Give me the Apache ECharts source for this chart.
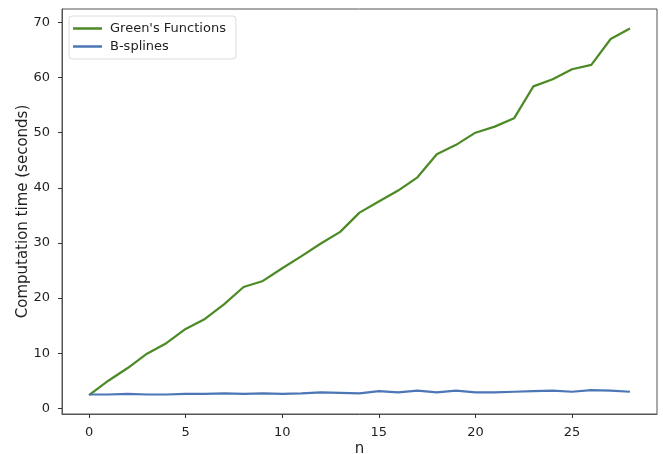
<!DOCTYPE html>
<html>
<head>
<meta charset="utf-8">
<script src="https://cdn.jsdelivr.net/npm/echarts@6/dist/echarts.min.js"></script>
<style>
html,body{margin:0;padding:0;background:#fff;}
#c{width:663px;height:454px;}
</style>
</head>
<body>
<div id="c"></div>
<script>
const nValues = [0,1,2,3,4,5,6,7,8,9,10,11,12,13,14,15,16,17,18,19,20,21,22,23,24,25,26,27,28];
const greens = [2.4,5.0,7.3,9.9,11.8,14.4,16.2,18.9,22.0,23.1,25.4,27.6,29.9,32.0,35.5,37.5,39.5,41.9,46.1,47.8,50.0,51.1,52.6,58.4,59.7,61.5,62.3,67.0,68.9];
const bsplines = [2.5,2.5,2.6,2.5,2.5,2.6,2.6,2.7,2.6,2.7,2.6,2.7,2.9,2.8,2.7,3.1,2.9,3.2,2.9,3.2,2.9,2.9,3.0,3.1,3.2,3.0,3.3,3.2,3.0];
const xTicks = [0,5,10,15,20,25];
const yTicks = [0,10,20,30,40,50,60,70];
const seriesNames = ["Green's Functions", "B-splines"];

const font = 'DejaVu Sans';
const txt = '#1f1f1f';
const chart = echarts.init(document.getElementById('c'), null, {renderer:'canvas'});
const pairs = (ys) => nValues.map((x,i)=>[x, ys[i]]);
chart.setOption({
  animation:false,
  backgroundColor:'#fff',
  grid:{left:62, right:6, top:9, bottom:40, containLabel:false, outerBoundsMode:'none',
        show:true, borderColor:'#555', borderWidth:1, backgroundColor:'transparent'},
  legend:{
    orient:'vertical', left:69, top:16,
    padding:[6,10,6,4],
    backgroundColor:'#fff', borderColor:'#dcdcdc', borderWidth:1, borderRadius:3,
    itemWidth:29, itemHeight:2.5, itemGap:5, icon:'rect',
    textStyle:{fontFamily:font, fontSize:13, color:txt, padding:[0,0,0,3]},
    data:seriesNames
  },
  xAxis:{
    type:'value', min:-1.4, max:29.4,
    name:'n', nameLocation:'middle', nameGap:28, nameMoveOverlap:false,
    nameTextStyle:{fontFamily:font, fontSize:15, color:txt},
    axisLine:{show:true, onZero:false, lineStyle:{color:'#555', width:1}},
    splitLine:{show:false},
    axisTick:{show:true, length:4, lineStyle:{color:'#333', width:1}, customValues:xTicks},
    axisLabel:{fontFamily:font, fontSize:13, color:txt, margin:12, customValues:xTicks}
  },
  yAxis:{
    type:'value', min:-1.04, max:72.44,
    name:'Computation time (seconds)', nameLocation:'middle', nameGap:31, nameMoveOverlap:false,
    nameTextStyle:{fontFamily:font, fontSize:15, color:txt},
    axisLine:{show:true, onZero:false, lineStyle:{color:'#555', width:1}},
    splitLine:{show:false},
    axisTick:{show:true, length:4, lineStyle:{color:'#333', width:1}, customValues:yTicks},
    axisLabel:{fontFamily:font, fontSize:13, color:txt, margin:12, customValues:yTicks}
  },
  series:[
    {name:seriesNames[0], type:'line', data:pairs(greens), showSymbol:false, symbol:'none',
     lineStyle:{color:'#4b8a24', width:2.2}, itemStyle:{color:'#4b8a24'}},
    {name:seriesNames[1], type:'line', data:pairs(bsplines), showSymbol:false, symbol:'none',
     lineStyle:{color:'#4c76b5', width:2.2}, itemStyle:{color:'#4c76b5'}}
  ]
});
</script>
</body>
</html>
